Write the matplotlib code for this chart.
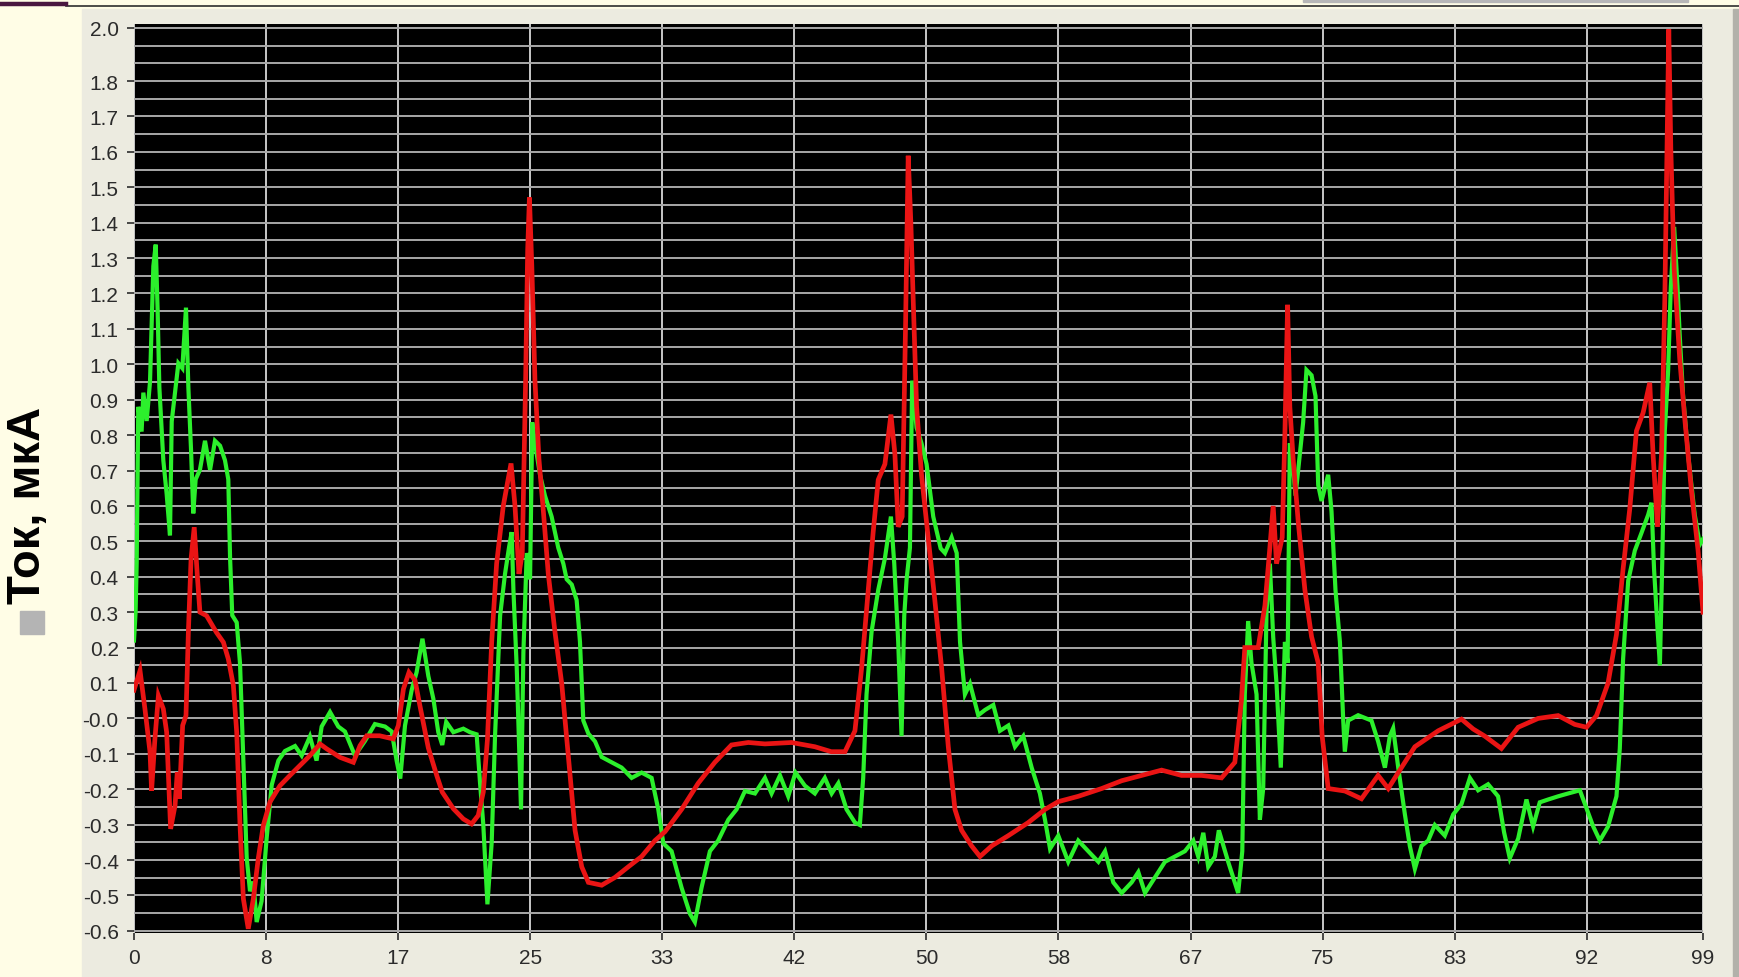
import numpy as np
import matplotlib
matplotlib.use('Agg')
import matplotlib.pyplot as plt
from matplotlib.patches import Rectangle
from matplotlib.lines import Line2D
from matplotlib.ticker import FixedLocator, MultipleLocator

# values (time, current in uA)
red_x = [0.0, 0.38, 0.69, 1.01, 1.11, 1.32, 1.54, 1.85, 2.06, 2.31, 2.59, 2.73, 2.86, 3.07, 3.28,
         3.43, 3.6, 3.8, 4.0, 4.16, 4.58, 5.2, 5.64, 5.95, 6.27, 6.48, 6.69, 6.9, 7.21, 7.53,
         7.84, 8.16, 8.58, 9.21, 9.84, 10.47, 11.1, 11.73, 12.16, 13.0, 13.84, 14.26, 14.68, 15.5,
         16.36, 16.68, 17.0, 17.35, 17.73, 18.04, 18.57, 19.1, 19.45, 20.15, 20.78, 21.3, 21.72,
         22.04, 22.3, 22.57, 22.88, 23.3, 23.79, 24.04, 24.29, 24.5, 24.71, 24.84, 24.95, 25.1,
         25.3, 25.55, 25.83, 26.14, 26.56, 26.99, 27.41, 27.83, 28.25, 28.67, 29.51, 30.35, 31.19,
         32.03, 32.87, 33.5, 34.55, 35.6, 36.65, 37.7, 38.76, 39.81, 41.49, 42.96, 44.0, 44.86,
         45.49, 45.91, 46.33, 46.64, 46.96, 47.38, 47.76, 48.01, 48.22, 48.47, 48.68, 48.85,
         49.02, 49.17, 49.38, 49.69, 50.11, 50.53, 50.96, 51.38, 51.8, 52.22, 52.85, 53.38, 54.12,
         55.17, 56.43, 57.48, 58.32, 59.58, 61.06, 62.32, 63.58, 64.84, 66.1, 67.36, 68.62, 69.46,
         69.88, 70.09, 70.93, 71.36, 71.67, 71.88, 72.09, 72.45, 72.62, 72.79, 72.93, 73.14,
         73.46, 73.88, 74.3, 74.72, 74.97, 75.35, 76.4, 77.45, 78.5, 79.14, 79.77, 80.82, 82.29,
         83.76, 84.5, 85.23, 86.28, 87.34, 88.6, 89.86, 90.91, 91.65, 92.28, 93.01, 93.54, 93.96,
         94.38, 94.8, 95.22, 95.64, 95.85, 96.13, 96.38, 96.59, 96.76, 96.84, 96.97, 97.18,
         97.53, 97.85, 98.27, 98.69, 99.0]
red_y = [0.08, 0.135, 0.027, -0.095, -0.204, -0.058, 0.064, 0.027, -0.039, -0.312, -0.246, -0.152,
         -0.227, -0.02, 0.008, 0.243, 0.45, 0.54, 0.4, 0.3, 0.29, 0.243, 0.215, 0.168, 0.093,
         -0.039, -0.302, -0.509, -0.594, -0.509, -0.396, -0.302, -0.236, -0.19, -0.161, -0.133,
         -0.105, -0.072, -0.086, -0.11, -0.124, -0.077, -0.049, -0.049, -0.058, -0.02, 0.083, 0.13,
         0.108, 0.036, -0.083, -0.161, -0.208, -0.255, -0.284, -0.298, -0.274, -0.208, -0.06,
         0.216, 0.437, 0.6, 0.72, 0.6, 0.408, 0.467, 0.954, 1.323, 1.471, 1.279, 0.954, 0.733,
         0.585, 0.408, 0.245, 0.098, -0.109, -0.316, -0.419, -0.463, -0.471, -0.449, -0.419,
         -0.39, -0.345, -0.32, -0.257, -0.183, -0.124, -0.075, -0.068, -0.072, -0.068, -0.08,
         -0.094, -0.094, -0.035, 0.142, 0.363, 0.526, 0.674, 0.718, 0.858, 0.747, 0.541, 0.57,
         1.102, 1.589, 1.397, 1.176, 0.88, 0.688, 0.511, 0.334, 0.142, -0.08, -0.257, -0.316,
         -0.36, -0.39, -0.36, -0.331, -0.294, -0.257, -0.235, -0.22, -0.198, -0.176, -0.161,
         -0.146, -0.161, -0.161, -0.168, -0.124, 0.053, 0.2, 0.2, 0.319, 0.482, 0.6, 0.437,
         0.511, 0.807, 1.168, 0.88, 0.733, 0.555, 0.363, 0.231, 0.157, -0.05, -0.198, -0.205,
         -0.227, -0.161, -0.198, -0.153, -0.08, -0.035, -0.002, -0.03, -0.05, -0.085, -0.025,
         0.0, 0.008, -0.017, -0.025, 0.008, 0.1, 0.237, 0.423, 0.592, 0.812, 0.863, 0.948, 0.745,
         0.541, 0.745, 1.185, 1.692, 1.946, 1.608, 1.27, 1.015, 0.846, 0.643, 0.474, 0.3]

green_x = [0.0, 0.1, 0.17, 0.27, 0.48, 0.59, 0.8, 1.01, 1.22, 1.37, 1.49, 1.6, 1.85, 2.06, 2.27,
           2.38, 2.59, 2.8, 3.05, 3.28, 3.43, 3.6, 3.74, 3.89, 4.16, 4.48, 4.8, 5.11, 5.43, 5.74,
           5.95, 6.06, 6.2, 6.48, 6.69, 6.9, 7.11, 7.32, 7.53, 7.74, 8.05, 8.37, 8.69, 9.11, 9.53,
           10.16, 10.58, 11.1, 11.52, 11.84, 12.37, 12.89, 13.31, 13.94, 14.57, 15.2, 15.84,
           16.26, 16.57, 16.8, 17.1, 17.52, 17.83, 18.2, 18.57, 18.89, 19.2, 19.45, 19.7, 20.15,
           20.78, 21.2, 21.62, 21.83, 22.04, 22.3, 22.57, 22.78, 23.1, 23.41, 23.66, 23.83, 23.94,
           24.15, 24.42, 24.57, 24.78, 24.99, 25.13, 25.3, 25.62, 25.93, 26.35, 26.77, 27.09,
           27.3, 27.62, 27.93, 28.14, 28.35, 28.67, 29.09, 29.51, 30.14, 30.77, 31.4, 32.03,
           32.66, 33.08, 33.4, 33.92, 34.55, 35.08, 35.39, 35.81, 36.34, 36.86, 37.5, 38.02,
           38.55, 39.18, 39.81, 40.23, 40.76, 41.28, 41.74, 42.33, 42.96, 43.59, 44.02, 44.44,
           44.96, 45.49, 45.8, 46.01, 46.22, 46.54, 46.96, 47.38, 47.76, 47.97, 48.22, 48.43,
           48.6, 48.75, 48.96, 49.1, 49.38, 49.69, 50.01, 50.43, 50.9, 51.17, 51.59, 51.91, 52.12,
           52.43, 52.75, 53.27, 53.7, 54.22, 54.64, 55.17, 55.59, 56.11, 56.64, 57.16, 57.48,
           57.8, 58.32, 58.95, 59.58, 60.21, 60.85, 61.27, 61.79, 62.32, 62.95, 63.37, 63.79,
           64.42, 65.05, 65.68, 66.31, 66.84, 67.15, 67.47, 67.78, 68.2, 68.45, 69.04, 69.67,
           69.93, 70.09, 70.3, 70.51, 70.83, 71.04, 71.25, 71.46, 71.67, 71.88, 72.09, 72.36,
           72.62, 72.79, 72.93, 73.08, 73.29, 73.56, 73.77, 73.98, 74.3, 74.55, 74.72, 74.93,
           75.35, 75.56, 75.81, 76.09, 76.3, 76.4, 76.61, 77.24, 78.08, 78.5, 78.93, 79.24,
           79.45, 79.77, 80.19, 80.5, 80.82, 81.24, 81.66, 82.08, 82.71, 83.24, 83.76, 84.29,
           84.81, 85.44, 86.07, 86.45, 86.81, 87.34, 87.86, 88.28, 88.7, 89.23, 89.86, 90.49,
           91.23, 91.65, 92.07, 92.49, 93.01, 93.54, 93.75, 93.96, 94.28, 94.7, 95.12, 95.54,
           95.75, 95.91, 96.13, 96.28, 96.42, 96.59, 96.8, 96.97, 97.18, 97.39, 97.53, 97.74,
           98.06, 98.48, 98.8, 99.0]
green_y = [0.22, 0.3, 0.44, 0.88, 0.81, 0.92, 0.84, 0.95, 1.277, 1.338, 1.154, 0.935, 0.729,
           0.634, 0.517, 0.839, 0.921, 1.003, 0.989, 1.16, 0.935, 0.757, 0.579, 0.675, 0.702,
           0.784, 0.702, 0.784, 0.77, 0.729, 0.675, 0.456, 0.291, 0.271, 0.155, -0.119, -0.393,
           -0.488, -0.461, -0.575, -0.516, -0.338, -0.188, -0.119, -0.092, -0.078, -0.105, -0.051,
           -0.119, -0.023, 0.018, -0.023, -0.037, -0.105, -0.064, -0.016, -0.023, -0.037, -0.119,
           -0.17, -0.02, 0.08, 0.13, 0.225, 0.12, 0.055, -0.039, -0.075, -0.01, -0.039, -0.029,
           -0.039, -0.045, -0.18, -0.3, -0.525, -0.35, -0.05, 0.29, 0.408, 0.482, 0.526, 0.363,
           0.142, -0.257, 0.186, 0.467, 0.393, 0.836, 0.777, 0.688, 0.629, 0.57, 0.482, 0.437,
           0.393, 0.378, 0.334, 0.216, -0.006, -0.043, -0.065, -0.109, -0.124, -0.139, -0.168,
           -0.153, -0.168, -0.257, -0.353, -0.375, -0.478, -0.552, -0.575, -0.478, -0.375,
           -0.345, -0.286, -0.257, -0.205, -0.212, -0.168, -0.212, -0.161, -0.22, -0.153, -0.19,
           -0.212, -0.168, -0.212, -0.183, -0.257, -0.294, -0.301, -0.168, 0.068, 0.245, 0.363,
           0.452, 0.57, 0.437, 0.216, -0.05, 0.29, 0.393, 0.482, 0.954, 0.821, 0.777, 0.718, 0.57,
           0.48, 0.467, 0.511, 0.467, 0.216, 0.068, 0.098, 0.009, 0.024, 0.038, -0.035, -0.02,
           -0.08, -0.05, -0.139, -0.212, -0.286, -0.368, -0.331, -0.405, -0.345, -0.375, -0.405,
           -0.375, -0.463, -0.493, -0.463, -0.434, -0.493, -0.449, -0.405, -0.39, -0.375, -0.345,
           -0.39, -0.323, -0.419, -0.39, -0.316, -0.405, -0.493, -0.375, 0.068, 0.275, 0.157,
           0.068, -0.286, -0.198, 0.304, 0.437, 0.23, 0.098, -0.139, 0.216, 0.157, 0.777, 0.733,
           0.629, 0.747, 0.836, 0.984, 0.969, 0.91, 0.659, 0.614, 0.688, 0.585, 0.363, 0.216,
           -0.006, -0.094, -0.006, 0.009, -0.006, -0.065, -0.139, -0.05, -0.028, -0.139, -0.271,
           -0.36, -0.425, -0.36, -0.345, -0.301, -0.331, -0.271, -0.242, -0.168, -0.203, -0.186,
           -0.22, -0.322, -0.395, -0.339, -0.229, -0.305, -0.237, -0.229, -0.22, -0.212, -0.203,
           -0.254, -0.305, -0.345, -0.305, -0.22, -0.085, 0.169, 0.389, 0.474, 0.524, 0.575,
           0.609, 0.423, 0.254, 0.15, 0.423, 0.812, 0.982, 1.219, 1.388, 1.219, 1.083, 0.914,
           0.745, 0.575, 0.491, 0.507]

x_ticks = [0, 25/3, 50/3, 25, 100/3, 125/3, 50, 175/3, 200/3, 75, 250/3, 275/3, 99]
x_labels = ['0', '8', '17', '25', '33', '42', '50', '58', '67', '75', '83', '92', '99']
y_ticks = [-0.6, -0.5, -0.4, -0.3, -0.2, -0.1, 0.0, 0.1, 0.2, 0.3, 0.4, 0.5, 0.6, 0.7, 0.8,
           0.9, 1.0, 1.1, 1.2, 1.3, 1.4, 1.5, 1.6, 1.7, 1.8, 1.95]
y_labels = ['-0.6', '-0.5', '-0.4', '-0.3', '-0.2', '-0.1', '-0.0', '0.1', '0.2', '0.3', '0.4',
            '0.5', '0.6', '0.7', '0.8', '0.9', '1.0', '1.1', '1.2', '1.3', '1.4', '1.5', '1.6',
            '1.7', '1.8', '2.0']

W, H = 1739, 978
fig = plt.figure(figsize=(W / 100, H / 100), dpi=100, facecolor='#fffde6')

# slide decorations
fig.patches.append(Rectangle((82 / W, 0), (1733 - 82) / W, (H - 10) / H,
                             transform=fig.transFigure, color='#ecebe0', zorder=-2))
fig.patches.append(Rectangle((1733 / W, 0), 6 / W, (H - 10) / H,
                             transform=fig.transFigure, color='#b2b1aa', zorder=-2))
fig.patches.append(Rectangle((1303 / W, 1 - 3 / H), 385 / W, 3 / H,
                             transform=fig.transFigure, color='#b7b7b7', zorder=-1))
fig.lines.append(Line2D([66 / W, 1], [1 - 6.5 / H, 1 - 6.5 / H], transform=fig.transFigure,
                        color='#2e2e2e', lw=1.2, zorder=-1))
fig.lines.append(Line2D([0, 66 / W], [1 - 5 / H, 1 - 5 / H], transform=fig.transFigure,
                        color='#4a1740', lw=3.2, zorder=-1))

ax = fig.add_axes([134 / W, 1 - 934 / H, (1703 - 134) / W, (934 - 25) / H])
ax.set_zorder(2)
ax.set_facecolor('black')
ax.plot(green_x, green_y, color='#2cf02c', lw=3.0, zorder=3, solid_joinstyle='miter')
ax.plot(red_x, red_y, color='#ea1414', lw=3.4, zorder=4, solid_joinstyle='miter')

ax.set_xlim(0, 99)
ax.set_ylim(-0.606, 1.961)
ax.xaxis.set_major_locator(FixedLocator(x_ticks))
ax.set_xticklabels(x_labels)
ax.yaxis.set_major_locator(FixedLocator(y_ticks))
ax.set_yticklabels(y_labels)
ax.yaxis.set_minor_locator(MultipleLocator(0.05))

ax.grid(True, axis='y', which='both', color='#a8a8a8', lw=1.4, zorder=1)
ax.grid(True, axis='x', which='major', color='#c8c8c8', lw=1.4, zorder=1)
ax.tick_params(axis='both', which='major', colors='#2b2b2b', labelsize=15,
               length=5, width=1.2, pad=6)
ax.tick_params(axis='y', which='minor', length=0)
for lab in ax.get_xticklabels() + ax.get_yticklabels():
    lab.set_family('Liberation Sans')
for s in ax.spines.values():
    s.set_visible(False)

fig.text(28 / W, 1 - 505 / H, 'Ток, мкА', rotation=90, fontsize=34, fontweight='bold',
         family='Liberation Sans', ha='center', va='center', color='black')
fig.patches.append(Rectangle((20 / W, 1 - 635 / H), 24 / W, 23 / H,
                             transform=fig.transFigure, color='#b4b4b4', zorder=2))

fig.savefig('out.png', dpi=100, facecolor=fig.get_facecolor())
